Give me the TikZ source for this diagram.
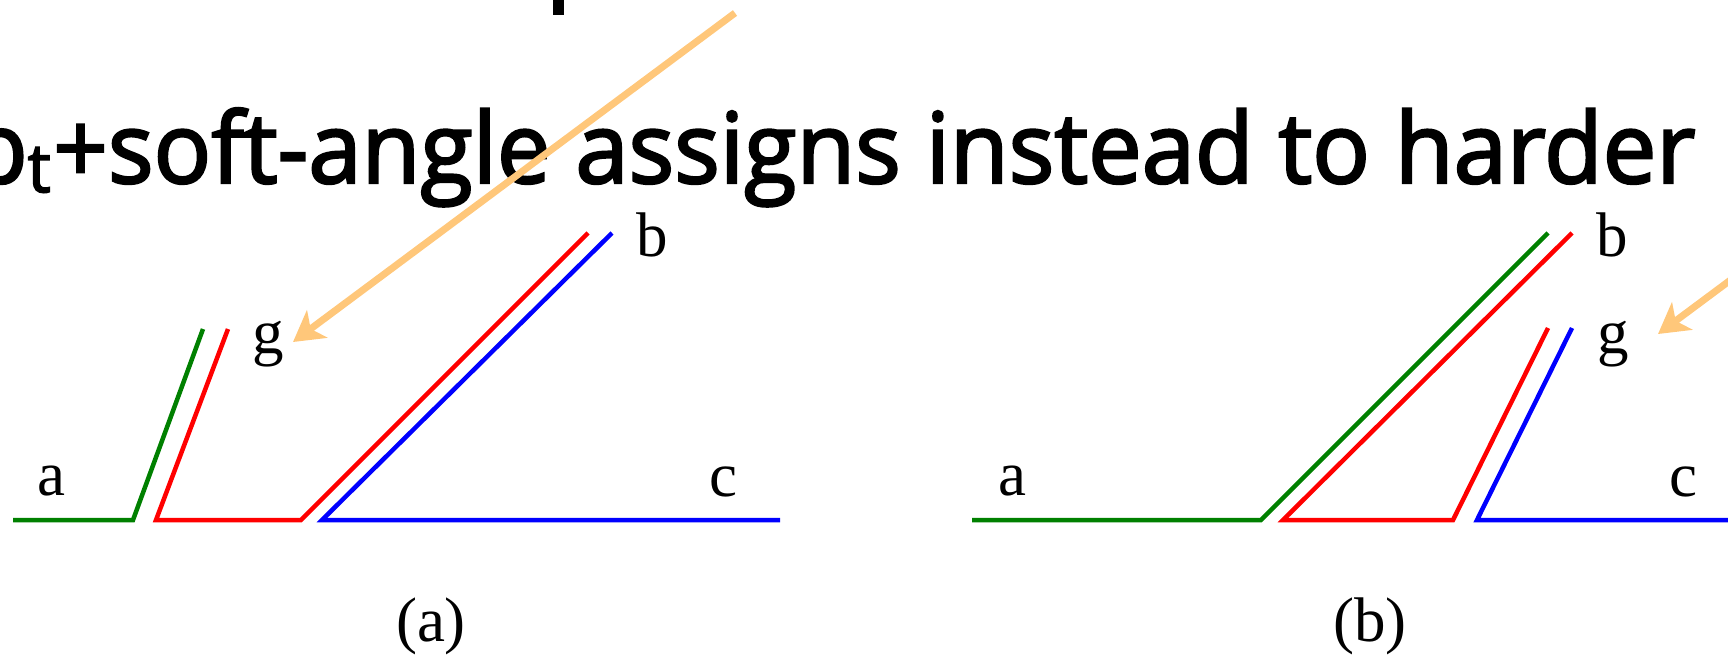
\documentclass[tikz,border=0pt]{standalone}
\usepackage{fontspec}
\usepackage{graphicx}
\setmainfont{Liberation Serif}
\newfontfamily\titlefont[FakeBold=2.5]{Open Sans}
\usetikzlibrary{arrows.meta}
\definecolor{arroworange}{RGB}{255,199,122}
\definecolor{jetgreen}{RGB}{0,128,0}
\definecolor{jetred}{RGB}{255,0,0}
\definecolor{jetblue}{RGB}{0,0,255}
\tikzset{
  jetline/.style={line width=4.5pt, line join=miter, line cap=butt},
  greenline/.style={jetline, draw=jetgreen},
  redline/.style={jetline, draw=jetred},
  blueline/.style={jetline, draw=jetblue},
  lbl/.style={inner sep=0pt, anchor=base, font=\fontsize{63}{70}\selectfont},
  pointer/.style={draw=arroworange, line width=7pt,
    -{Stealth[length=30pt, width=34pt, inset=8pt]}},
}
\begin{document}
\begin{tikzpicture}[x=1pt, y=-1pt]
\useasboundingbox (0,0) rectangle (1728,654);
\clip (0,0) rectangle (1728,654);

% fragment of the previous text line
\fill (553,0) rectangle (564,15);

% title line
\node[inner sep=0pt, anchor=base west] (title) at (53,183)
  {\resizebox{1642pt}{75pt}{\titlefont +soft-angle assigns instead to harder}};
\node[inner sep=0pt, anchor=base east] (pt) at (51,183)
  {\titlefont\scalebox{0.964}[1]{\fontsize{98.7}{100}\selectfont p\raisebox{-9pt}{\fontsize{68}{70}\selectfont t}}};

% ---------------- panel (a)
\coordinate (aG1) at (13,520);
\coordinate (aG2) at (133,520);
\coordinate (aG3) at (203,329);
\coordinate (aR1) at (228,329);
\coordinate (aR2) at (156,520);
\coordinate (aR3) at (301,520);
\coordinate (aR4) at (588,233);
\coordinate (aB1) at (612,233);
\coordinate (aB2) at (322,520);
\coordinate (aB3) at (780,520);
\draw[greenline] (aG1) -- (aG2) -- (aG3);
\draw[redline] (aR1) -- (aR2) -- (aR3) -- (aR4);
\draw[blueline] (aB1) -- (aB2) -- (aB3);

\node[lbl] (aa) at (51,495) {a};
\node[lbl] (ag) at (268,353) {g};
\node[lbl] (ab) at (652,256) {b};
\node[lbl] (ac) at (723,496) {c};
\node[lbl] (acap) at (431,641) {(a)};

\coordinate (arrAstart) at (735,13);
\coordinate (arrAend) at (293,342);
\draw[pointer] (arrAstart) -- (arrAend);

% ---------------- panel (b)
\coordinate (bG1) at (972,520);
\coordinate (bG2) at (1261,520);
\coordinate (bG3) at (1548,233);
\coordinate (bR1) at (1572,233);
\coordinate (bR2) at (1283,520);
\coordinate (bR3) at (1453,520);
\coordinate (bR4) at (1548,328);
\coordinate (bB1) at (1572,328);
\coordinate (bB2) at (1477,520);
\coordinate (bB3) at (1760,520);
\draw[greenline] (bG1) -- (bG2) -- (bG3);
\draw[redline] (bR1) -- (bR2) -- (bR3) -- (bR4);
\draw[blueline] (bB1) -- (bB2) -- (bB3);

\node[lbl] (ba) at (1012,495) {a};
\node[lbl] (bb) at (1612,256) {b};
\node[lbl] (bg) at (1613,353) {g};
\node[lbl] (bc) at (1683,496) {c};
\node[lbl] (bcap) at (1370,641) {(b)};

\coordinate (arrBstart) at (2100,5);
\coordinate (arrBend) at (1658,334);
\draw[pointer] (arrBstart) -- (arrBend);
\end{tikzpicture}
\end{document}
